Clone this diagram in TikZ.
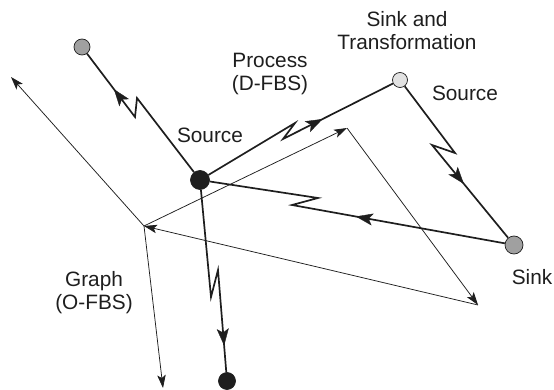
\documentclass[tikz,border=0pt]{standalone}
\usepackage{fontspec}
\setmainfont{Liberation Sans}
\usetikzlibrary{arrows.meta,decorations.markings}
\definecolor{ink}{HTML}{1E1E1E}
\definecolor{midgray}{HTML}{A0A0A0}
\definecolor{palegray}{HTML}{E2E2E2}
\begin{document}
\begin{tikzpicture}[x=1pt,y=-1pt,
  dot/.style={circle,draw=ink,line width=0.7pt,inner sep=0pt,minimum size=#1},
  flow/.style={line width=1.7pt,draw=ink},
  link/.style={line width=0.75pt,draw=ink,-{Stealth[length=13pt,width=8.5pt,inset=3pt]}},
  midarrow/.style={postaction={decorate},decoration={markings,
      mark=at position #1 with {\arrow[ink]{Stealth[length=17pt,width=12pt,inset=4pt]}}}},
  lbl/.style={font=\fontsize{20.8}{23}\selectfont,align=center,inner sep=0pt,text=ink}]
\useasboundingbox (0,0) rectangle (554,390);

% graph (O-FBS): thin arrows
\coordinate (A) at (144,226);
\coordinate (B) at (347,128);
\coordinate (C) at (478,305);
\coordinate (tl) at (11,77);
\coordinate (bl) at (163,388);
\draw[link] (A) -- (tl);
\draw[link] (A) -- (bl);
\draw[link] (A) -- (B);
\draw[link] (B) -- (C);
\draw[link] (C) -- (A);

% process (D-FBS): flows with lightning kinks
\coordinate (k1a) at (137,98);  \coordinate (k1b) at (135,117);
\coordinate (k2a) at (295,123); \coordinate (k2b) at (283,139);
\coordinate (k3a) at (455,153); \coordinate (k3b) at (432,145);
\coordinate (k4a) at (292,205); \coordinate (k4b) at (318,198);
\coordinate (k5a) at (211,297); \coordinate (k5b) at (218,270);

\node[dot=16pt,fill=midgray] (g1) at (82,47) {};
\node[dot=19pt,fill=ink] (src) at (200,180) {};
\node[dot=15pt,fill=palegray] (st) at (400,80) {};
\node[dot=18pt,fill=midgray] (snk) at (514,245) {};
\node[dot=17pt,fill=ink] (bot) at (227,381) {};

\draw[flow] (src) -- (k1a) -- (k1b) -- (g1);
\path[midarrow=0.44] (k1b) -- (g1);
\draw[flow] (src) -- (k2a) -- (k2b) -- (st);
\path[midarrow=0.36] (k2b) -- (st);
\draw[flow] (st) -- (k3a) -- (k3b) -- (snk);
\path[midarrow=0.42] (k3b) -- (snk);
\draw[flow] (snk) -- (k4a) -- (k4b) -- (src);
\path[midarrow=0.70] (snk) -- (k4a);
\draw[flow] (src) -- (k5a) -- (k5b) -- (bot);
\path[midarrow=0.74] (k5b) -- (bot);

% labels (base anchor sits on the last line)
\node[lbl,anchor=base] (lsrc) at (210,143) {Source};
\node[lbl,anchor=base] (lproc) at (270,91) {Process\\(D-FBS)};
\node[lbl,anchor=base] (lst) at (407,50) {Sink and\\Transformation};
\node[lbl,anchor=base] (lsrc2) at (465,101) {Source};
\node[lbl,anchor=base] (lsnk) at (532,284) {Sink};
\node[lbl,anchor=base] (lgr) at (94,309) {Graph\\(O-FBS)};
\end{tikzpicture}
\end{document}
